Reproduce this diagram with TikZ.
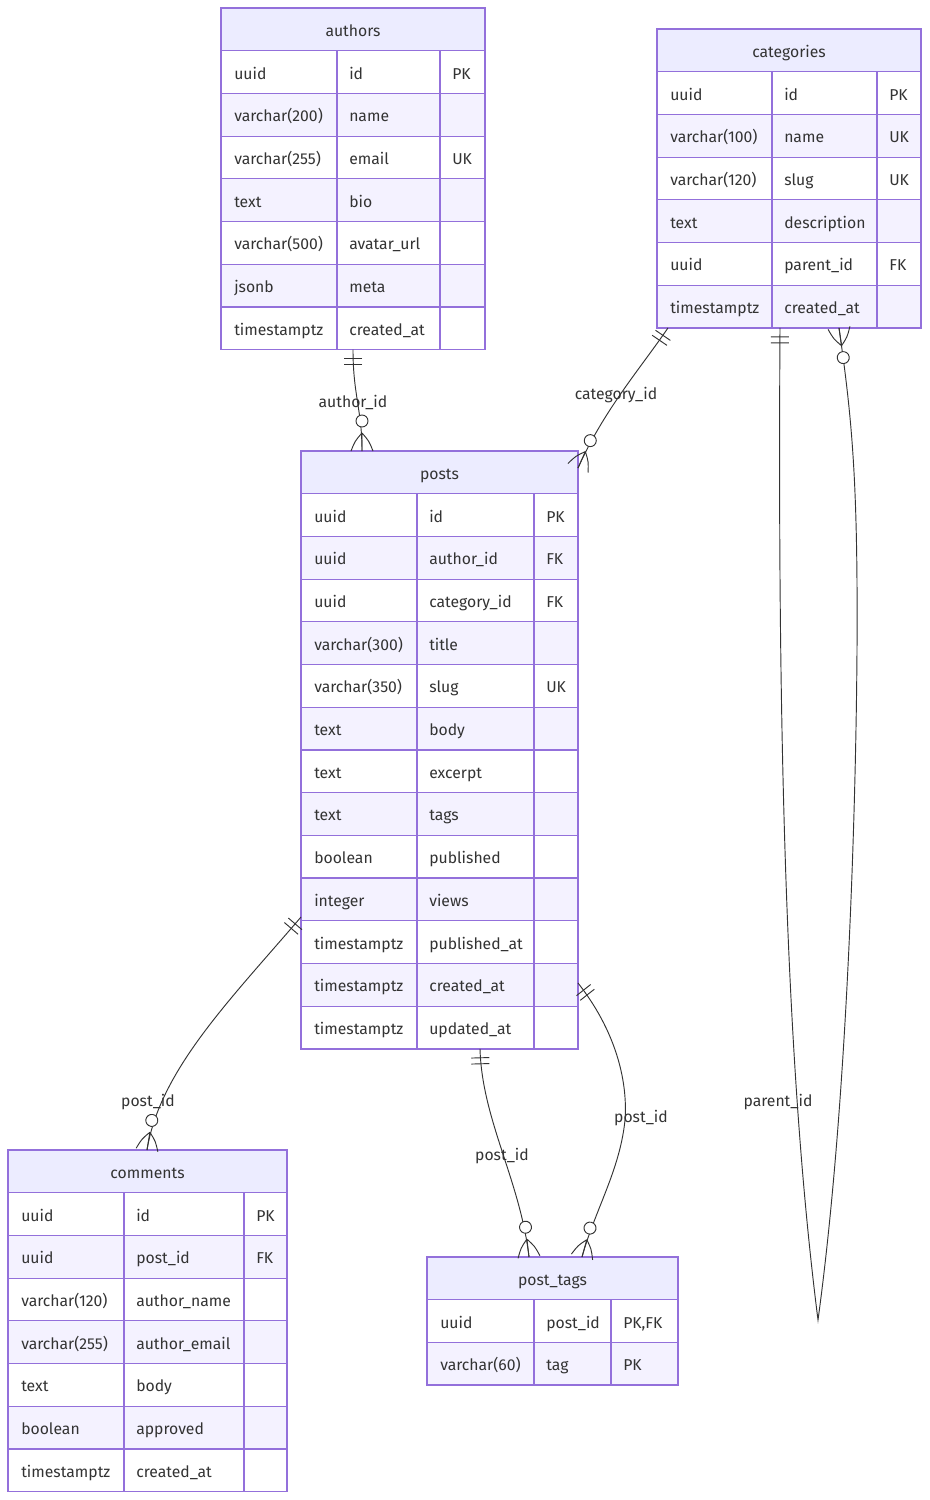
\documentclass[tikz,border=0pt]{standalone}
\usepackage{fontspec}
\setmainfont{Fira Sans}
\usetikzlibrary{decorations.markings,calc}
\definecolor{hdr}{HTML}{ECECFF}
\definecolor{rowB}{HTML}{F4F2FF}
\definecolor{bord}{HTML}{9370DB}
\definecolor{ink}{HTML}{333333}
\newcommand{\erfont}{\fontsize{11.8}{13}\selectfont}
\tikzset{
  frame/.style={draw=bord, line width=1.1pt, inner sep=0pt, outer sep=0pt, anchor=north west},
  grid/.style={draw=bord, line width=0.9pt},
  cell/.style={anchor=base west, inner sep=0pt, text=ink, font=\erfont},
  ttl/.style={anchor=base, inner sep=0pt, text=ink, font=\erfont},
  lbl/.style={anchor=base, inner sep=0pt, text=ink, font=\erfont},
  rel/.style={draw=ink, line width=0.7pt},
  onestart/.style={postaction={decorate, decoration={markings, mark=at position 0 with {\draw[ink, line width=0.7pt] (9,-9)--(9,9) (15,-9)--(15,9);}}}},
  manyend/.style={postaction={decorate, decoration={markings, mark=at position 1 with {\draw[ink, line width=0.7pt] (-18,0)--(0,0) (-18,0) .. controls (-10,7) .. (0,11) (-18,0) .. controls (-10,-7) .. (0,-11); \draw[ink, line width=0.7pt, fill=white] (-30,0) circle[radius=4.5pt];}}}}
}
% #1 name, #2 x, #3 y, #4 width, #5 col1 x, #6 col2 x, #7 rows, #8 title, #9 row list
\newcommand{\ertable}[9]{%
  \fill[hdr] (#2,#3) rectangle ++(#4,42.7);
  \node[ttl] (#1-title) at (#2+#4/2, #3+21.35+7) {#8};
  \foreach [count=\i] \a/\b/\c in {#9} {
    \pgfmathsetmacro\rtop{#3+42.7*\i}
    \ifodd\i\def\rf{white}\else\def\rf{rowB}\fi
    \fill[\rf] (#2,\rtop) rectangle ++(#4,42.7);
    \draw[grid] (#2,\rtop) -- ++(#4,0);
    \draw[grid] (#5,\rtop) -- ++(0,42.7);
    \draw[grid] (#6,\rtop) -- ++(0,42.7);
    \node[cell] (#1-\i-a) at (#2+13, \rtop+21.35+7) {\a};
    \node[cell] (#1-\i-b) at (#5+12, \rtop+21.35+7) {\b};
    \node[cell] (#1-\i-c) at (#6+12, \rtop+21.35+7) {\c};
  }
  \pgfmathsetmacro\th{42.7*(#7+1)}
  \node[frame, minimum width=#4*0.75pt, minimum height=\th*0.75pt] (#1) at (#2,#3) {};
}
\begin{document}
\begin{tikzpicture}[x=0.75pt, y=-0.75pt]
\fill[white] (0,0) rectangle (930,1500);
\useasboundingbox (0,0) rectangle (930,1500);

\ertable{authors}{221}{8}{264}{337}{440}{7}{authors}{uuid/id/PK, varchar(200)/name/{}, varchar(255)/email/UK, text/bio/{}, varchar(500)/avatar\_url/{}, jsonb/meta/{}, timestamptz/created\_at/{}}

\ertable{categories}{657}{29}{264}{772}{877}{6}{categories}{uuid/id/PK, varchar(100)/name/UK, varchar(120)/slug/UK, text/description/{}, uuid/parent\_id/FK, timestamptz/created\_at/{}}

\ertable{posts}{301}{451}{277}{417}{534}{13}{posts}{uuid/id/PK, uuid/author\_id/FK, uuid/category\_id/FK, varchar(300)/title/{}, varchar(350)/slug/UK, text/body/{}, text/excerpt/{}, text/tags/{}, boolean/published/{}, integer/views/{}, timestamptz/published\_at/{}, timestamptz/created\_at/{}, timestamptz/updated\_at/{}}

\ertable{comments}{8}{1150}{279}{124}{244}{7}{comments}{uuid/id/PK, uuid/post\_id/FK, varchar(120)/author\_name/{}, varchar(255)/author\_email/{}, text/body/{}, boolean/approved/{}, timestamptz/created\_at/{}}

\ertable{post_tags}{427}{1257}{251}{534}{611}{2}{post\_tags}{uuid/post\_id/{PK,FK}, varchar(60)/tag/PK}

% connectors
\draw[rel, onestart, manyend] (authors.south) .. controls +(0,45) and +(0,-41) .. ($(posts.north west)+(61,0)$);
\draw[rel, onestart, manyend] ($(categories.south west)+(11,0)$) .. controls +(-28,41) and +(26,-58) .. ($(posts.north east)+(0,17)$);
\coordinate (loop) at (818,1320);
\coordinate (bulge) at (857,650);
\draw[rel, onestart, manyend] ($(categories.south west)+(123,0)$) .. controls +(-3,470) and +(-28,-220) .. (loop) .. controls +(30,-220) and +(-1,150) .. (bulge) .. controls +(1,-170) and +(13,91) .. ($(categories.south west)+(182,0)$);
\draw[rel, onestart, manyend] ($(posts.north west)+(0,466)$) .. controls +(-71,83) and +(13,-80) .. ($(comments.north west)+(139,0)$);
\draw[rel, onestart, manyend] ($(posts.south west)+(179,0)$) .. controls +(2,71) and +(-9,-77) .. ($(post_tags.north west)+(102,0)$);
\coordinate (mid) at (625,1120);
\draw[rel, onestart, manyend] ($(posts.north east)+(0,532)$) .. controls +(37,47) and +(3,-40) .. (mid) .. controls +(-5,50) and +(13,-47) .. ($(post_tags.north west)+(155,0)$);

% labels
\node[lbl] (l1) at (353,407) {author\_id};
\node[lbl] (l2) at (616,399) {category\_id};
\node[lbl] (l3) at (778,1106) {parent\_id};
\node[lbl] (l4) at (148,1106) {post\_id};
\node[lbl] (l5) at (502,1160) {post\_id};
\node[lbl] (l6) at (641,1122) {post\_id};
\end{tikzpicture}
\end{document}
